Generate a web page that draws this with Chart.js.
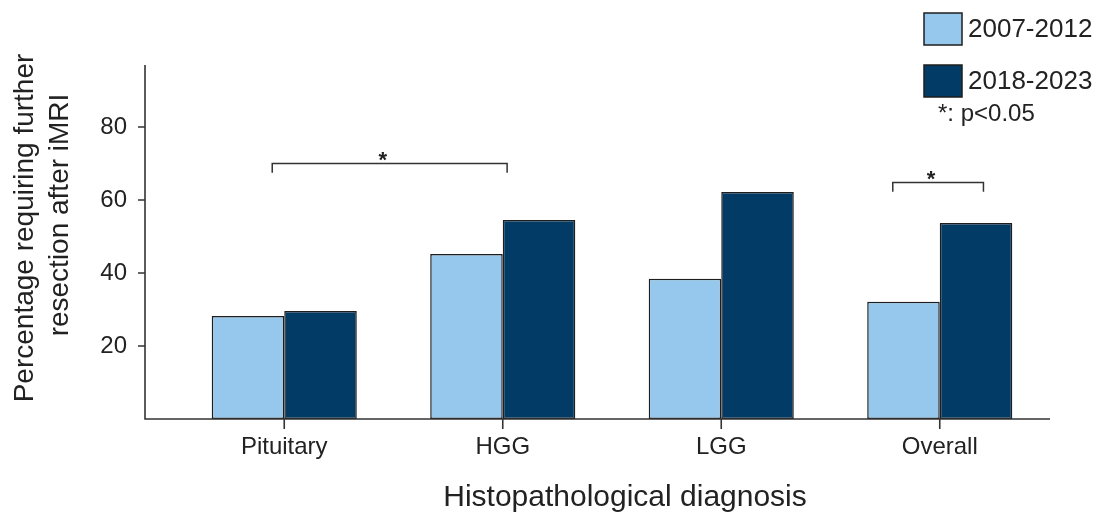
<!DOCTYPE html>
<html>
<head>
<meta charset="utf-8">
<title>Further resection after iMRI</title>
<script src="https://cdn.jsdelivr.net/npm/chart.js@4.4.1/dist/chart.umd.min.js"></script>
<style>
  html, body { margin: 0; padding: 0; background: #fff; }
  #wrap { width: 1100px; height: 516px; }
</style>
</head>
<body>
<div id="wrap"><canvas id="myBar"></canvas></div>
<script>
var categories = ['Pituitary', 'HGG', 'LGG', 'Overall'];
var seriesNames = ['2007-2012', '2018-2023'];
var early = [28.2, 45.2, 38.4, 32.1];
var late = [29.6, 54.5, 62.2, 53.7];
var yTicks = [20, 40, 60, 80];
var yMax = 97;
var yTitle = ['Percentage requiring further', 'resection after iMRI'];
var xTitle = 'Histopathological diagnosis';
var sigNote = '*: p<0.05';
// significance brackets, in category index units and % units
var brackets = [
  { from: -0.055, to: 1.02, level: 70, drop: 2.5 },
  { from: 2.785, to: 3.2, level: 64.8, drop: 2.5 }
];

var FONT = '"Liberation Sans", Arial, Helvetica, sans-serif';
var INK = '#222';

var extras = {
  id: 'extras',
  afterDraw: function(chart) {
    var c = chart.ctx, xs = chart.scales.x, ys = chart.scales.y;
    var axisX = chart.chartArea.left - 30;
    var base = ys.getPixelForValue(0);
    var top = ys.getPixelForValue(yMax);
    var step = xs.getPixelForValue(1) - xs.getPixelForValue(0);
    c.save();

    // axis lines and tick marks
    c.strokeStyle = '#333';
    c.lineWidth = 1.6;
    c.beginPath();
    c.moveTo(axisX, top);
    c.lineTo(axisX, base);
    c.lineTo(chart.chartArea.right + 1, base);
    yTicks.forEach(function(v) {
      var py = ys.getPixelForValue(v);
      c.moveTo(axisX - 7, py);
      c.lineTo(axisX, py);
    });
    categories.forEach(function(cat, i) {
      var px = xs.getPixelForValue(i);
      c.moveTo(px, base);
      c.lineTo(px, base + 10);
    });
    c.stroke();

    // brackets
    c.lineWidth = 1.5;
    c.fillStyle = INK;
    c.font = 'bold 22px ' + FONT;
    c.textAlign = 'center';
    c.textBaseline = 'alphabetic';
    brackets.forEach(function(b) {
      var x1 = xs.getPixelForValue(0) + b.from * step;
      var x2 = xs.getPixelForValue(0) + b.to * step;
      var yl = ys.getPixelForValue(b.level);
      var yd = ys.getPixelForValue(b.level - b.drop);
      c.beginPath();
      c.moveTo(x1, yd); c.lineTo(x1, yl); c.lineTo(x2, yl); c.lineTo(x2, yd);
      c.stroke();
      c.fillText('*', (x1 + x2) / 2 - 7, yl + 3);
    });

    // y title
    c.font = '28px ' + FONT;
    c.textAlign = 'center';
    [[33, 228], [68, 215]].forEach(function(p, i) {
      c.save();
      c.translate(p[0], p[1]);
      c.rotate(-Math.PI / 2);
      c.fillText(yTitle[i], 0, 0);
      c.restore();
    });

    // x title
    c.font = '30px ' + FONT;
    c.fillText(xTitle, 625, 506);

    // legend
    c.textAlign = 'left';
    c.font = '26px ' + FONT;
    chart.data.datasets.forEach(function(ds, i) {
      var by = 13 + i * 52;
      c.fillStyle = ds.backgroundColor;
      c.fillRect(924, by, 38, 32);
      c.strokeStyle = '#1e1e1e';
      c.lineWidth = 1.5;
      c.strokeRect(924, by, 38, 32);
      c.fillStyle = INK;
      c.fillText(ds.label, 968, by + 24);
    });
    c.font = '24px ' + FONT;
    c.fillText(sigNote, 938, 121);

    c.restore();
  }
};

new Chart(document.getElementById('myBar'), {
  type: 'bar',
  data: {
    labels: categories,
    datasets: [{
      label: seriesNames[0],
      data: early,
      backgroundColor: '#95C8EC',
      borderColor: '#1e1e1e',
      borderWidth: 1.5,
      borderSkipped: false
    }, {
      label: seriesNames[1],
      data: late,
      backgroundColor: '#023B66',
      borderColor: '#1e1e1e',
      borderWidth: 1.5,
      borderSkipped: false
    }]
  },
  options: {
    responsive: true,
    maintainAspectRatio: false,
    animation: false,
    layout: { padding: { top: 65, right: 51, left: 0, bottom: 0 } },
    datasets: { bar: { barPercentage: 1.0, categoryPercentage: 0.664 } },
    scales: {
      x: {
        grid: { display: false, drawTicks: false },
        border: { display: false },
        ticks: { color: INK, padding: 14, font: { family: FONT, size: 24 } },
        afterFit: function(s) { s.height = 97; }
      },
      y: {
        min: 0,
        max: yMax,
        grid: { display: false, drawTicks: false },
        border: { display: false },
        afterBuildTicks: function(s) {
          s.ticks = yTicks.map(function(v) { return { value: v }; });
        },
        ticks: { color: INK, padding: 48, font: { family: FONT, size: 24 } },
        afterFit: function(s) { s.width = 175; }
      }
    },
    plugins: {
      legend: { display: false },
      tooltip: { enabled: false }
    }
  },
  plugins: [extras]
});
</script>
</body>
</html>
